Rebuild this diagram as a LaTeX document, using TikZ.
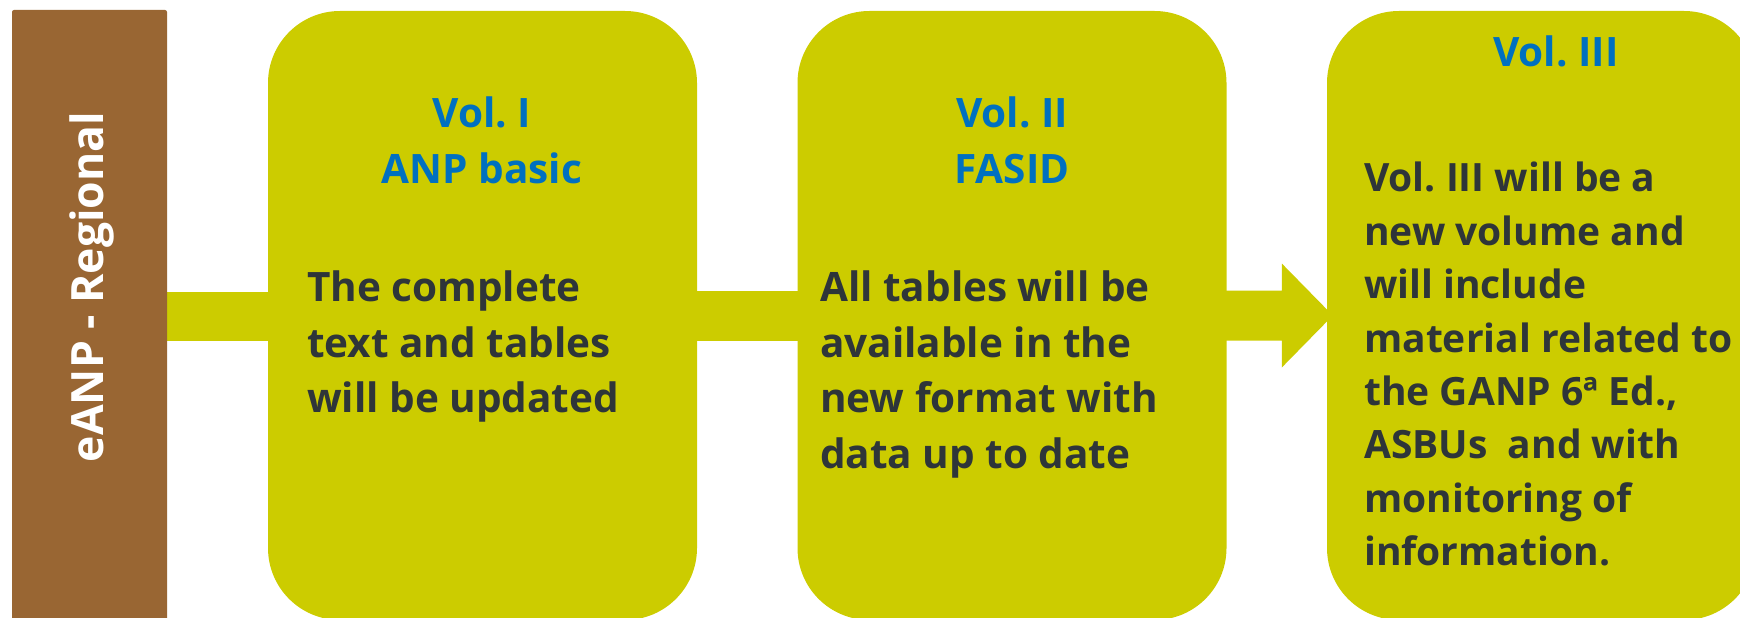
\documentclass[tikz,border=0pt]{standalone}
\usepackage{fontspec}
\setmainfont{Open Sans}
\usetikzlibrary{calc,backgrounds}
\definecolor{boxlime}{RGB}{204,204,0}
\definecolor{sidebrown}{RGB}{153,102,51}
\definecolor{headblue}{RGB}{0,112,192}
\definecolor{bodygray}{RGB}{46,53,57}
\begin{document}
\frenchspacing
\begin{tikzpicture}[x=1pt,y=-1pt,
  panel/.style={fill=boxlime, draw=none, rounded corners=72pt, minimum width=429pt, minimum height=609pt, inner sep=0pt},
  head/.style={text=headblue, font=\fontsize{40.5}{56}\selectfont\bfseries, align=center, inner sep=0pt, anchor=north},
  body/.style={text=bodygray, font=\fontsize{40.5}{55.5}\selectfont\bfseries, align=left, inner sep=0pt, anchor=north west},
  link/.style={fill=boxlime}]
\useasboundingbox (0,0) rectangle (1740,618);
\clip (0,0) rectangle (1740,618);

\node[fill=sidebrown, minimum width=155pt, minimum height=614pt, inner sep=0pt, rounded corners=2pt] (side) at (89.5,317) {};
\node[rotate=90, text=white, font=\fontsize{44.5}{50}\selectfont\bfseries, inner sep=0pt] (sidetext) at (92,287) {eANP - Regional};

\node[panel] (v1) at (482.5,315.5) {};
\node[panel] (v2) at (1012,315.5) {};
\node[panel] (v3) at (1541.5,315.5) {};

\begin{scope}[on background layer]
  \fill[link] ($(side.east)+(-2,-25)$) rectangle ($(v1.west)+(2,25)$);
  \fill[link] ($(v1.east)+(-2,-25)$) rectangle ($(v2.west)+(2,25)$);
  \fill[link] ($(v2.east)+(-2,-25)$) -- ($(v3.west)+(-45,-25)$) -- ($(v3.west)+(-45,-52)$)
     -- ($(v3.west)+(6,0)$) -- ($(v3.west)+(-45,52)$) -- ($(v3.west)+(-45,25)$)
     -- ($(v2.east)+(-2,25)$) -- cycle;
\end{scope}

\node[head] (h1) at (482,97) {Vol. I\\ANP basic};
\node[head] (h2) at (1012,97) {Vol. II\\FASID};
\node[head] (h3) at (1556,36) {Vol. III};

\node[body] (b1) at (307,271) {The complete\\text and tables\\will be updated};
\node[body] (b2) at (820,271) {All tables will be\\available in the\\new format with\\data up to date};
\node[body, font=\fontsize{39}{53.4}\selectfont\bfseries] (b3) at (1364,162) {Vol. III will be a\\new volume and\\will include\\material related to\\the GANP 6ª Ed.,\\ASBUs~ and with\\monitoring of\\information.};
\end{tikzpicture}
\end{document}
